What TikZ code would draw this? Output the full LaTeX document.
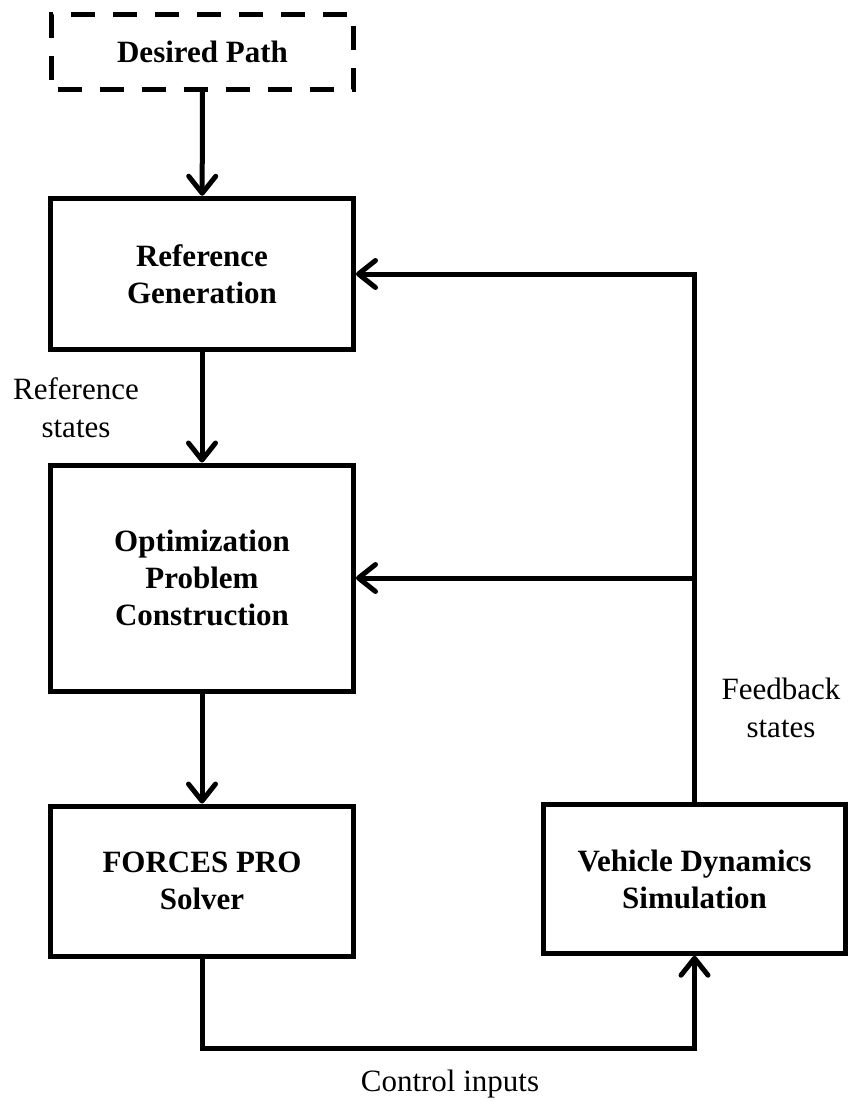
\documentclass[tikz,border=0pt]{standalone}
\usepackage{fontspec}
\setmainfont{Liberation Serif}
\usetikzlibrary{arrows.meta}
\begin{document}
\begin{tikzpicture}[x=1pt,y=1pt,
  box/.style={draw, line width=5pt, inner sep=0pt, align=center,
    font=\fontsize{31}{37}\selectfont\bfseries},
  dbox/.style={box, dash pattern=on 24pt off 18pt, dash phase=-6pt},
  lbl/.style={inner sep=0pt, align=center, font=\fontsize{31}{38}\selectfont},
  arr/.style={line width=5pt, -{Straight Barb[length=17pt,width=27pt,line cap=round,line join=round]}}]
\useasboundingbox (0,0) rectangle (848,-1101);
\node[dbox, minimum width=302pt, minimum height=75pt] (des) at (202.5,-52) {Desired Path};
\node[box, minimum width=303pt, minimum height=151.5pt] (ref) at (202,-274) {Reference\\Generation};
\node[box, minimum width=303pt, minimum height=226pt] (opt) at (202,-578) {Optimization\\Problem\\Construction};
\node[box, minimum width=303pt, minimum height=150pt] (sol) at (202,-881) {FORCES PRO\\Solver};
\node[box, minimum width=302.5pt, minimum height=148.5pt] (veh) at (694.5,-879) {Vehicle Dynamics\\Simulation};
\node[lbl] (rs) at (76,-408) {Reference\\states};
\node[lbl] (fs) at (781,-708) {Feedback\\states};
\node[lbl, font=\fontsize{31}{37}\selectfont] (ci) at (450,-1084) {Control inputs};
\coordinate (cb) at (0,-1048);
\draw[arr] (des) -- (ref);
\draw[arr] (ref) -- (opt);
\draw[arr] (opt) -- (sol);
\draw[arr] (veh.north) |- (ref.east);
\draw[arr] (veh.north |- opt.east) -- (opt.east);
\draw[arr] (sol.south) -- (sol.south |- cb) -| (veh.south);
\end{tikzpicture}
\end{document}
